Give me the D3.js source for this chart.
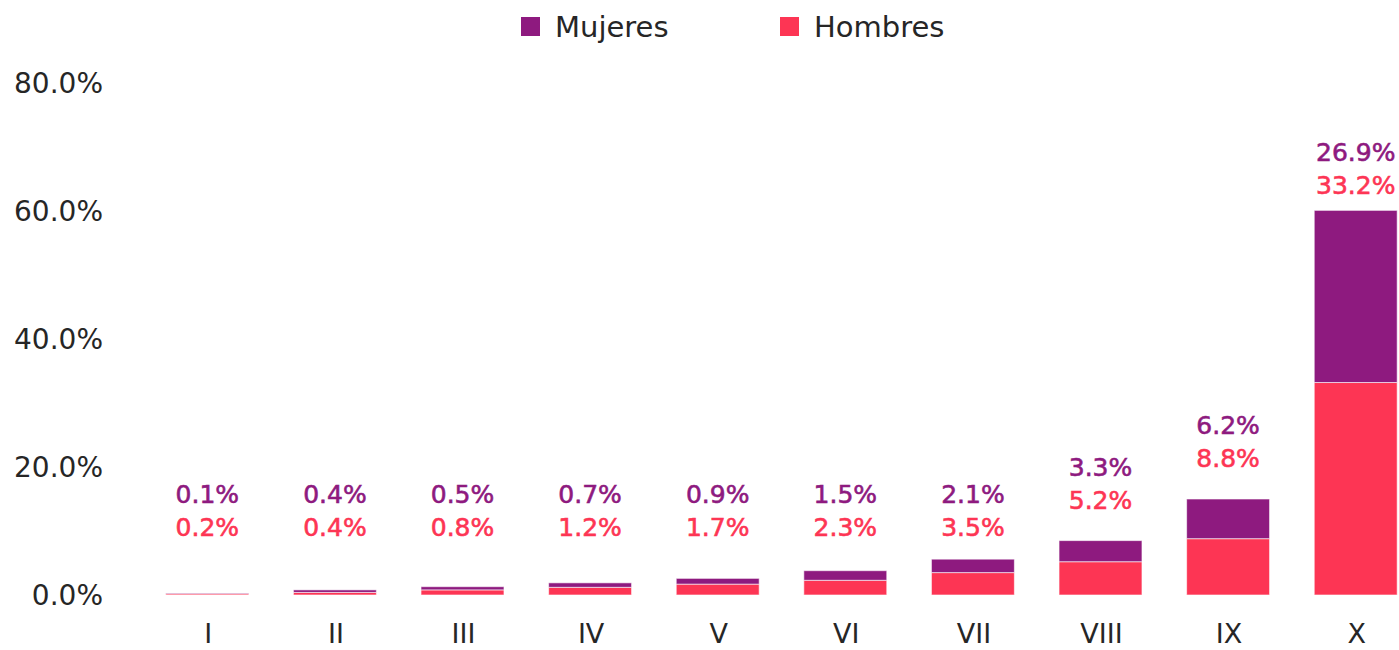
<!DOCTYPE html>
<html>
<head>
<meta charset="utf-8">
<script src="https://cdn.jsdelivr.net/npm/d3@7"></script>
<style>
  body { margin: 0; background: #fff; }
  text { font-family: "DejaVu Sans", sans-serif; }
</style>
</head>
<body>
<div id="chart"></div>
<script>
const categories = ['I', 'II', 'III', 'IV', 'V', 'VI', 'VII', 'VIII', 'IX', 'X']
const mujeres = [0.1, 0.4, 0.5, 0.7, 0.9, 1.5, 2.1, 3.3, 6.2, 26.9]
const hombres = [0.2, 0.4, 0.8, 1.2, 1.7, 2.3, 3.5, 5.2, 8.8, 33.2]
const yTicks = [0, 20, 40, 60, 80]
const seriesNames = ['Mujeres', 'Hombres']

const colors = { Mujeres: '#8e1a7f', Hombres: '#fd3554' }

const dimensions = { width: 1399, height: 650 }

const rows = categories.map((c, i) => ({ cat: c, Hombres: hombres[i], Mujeres: mujeres[i] }))
const stack = d3.stack().keys(['Hombres', 'Mujeres'])(rows)

const svg = d3.select('#chart')
  .append('svg')
  .attr('width', dimensions.width)
  .attr('height', dimensions.height)

const xScale = d3.scaleBand()
  .domain(categories)
  .range([143.5, 1419.5])
  .paddingInner(0.35)
  .paddingOuter(0.175)

const yScale = d3.scaleLinear()
  .domain([0, 80])
  .range([595, 83])

// y axis labels only
const yAxis = d3.axisLeft(yScale)
  .tickValues(yTicks)
  .tickFormat(d => d3.format('.1f')(d) + '%')
  .tickSize(0)
  .tickPadding(0)

const yAxisGroup = svg.append('g')
  .attr('transform', 'translate(103, -1)')
  .call(yAxis)
yAxisGroup.select('.domain').remove()
yAxisGroup.selectAll('text')
  .attr('font-family', '"DejaVu Sans", sans-serif')
  .style('font-size', '28px')
  .attr('fill', '#262626')
  .attr('dy', '0.36em')

// bars (thin white edge like the original)
svg.append('g')
  .selectAll('g')
  .data(stack)
  .join('g')
  .attr('fill', d => colors[d.key])
  .selectAll('rect')
  .data(d => d)
  .join('rect')
  .attr('x', d => xScale(d.data.cat))
  .attr('width', xScale.bandwidth())
  .attr('y', d => yScale(d[1]))
  .attr('height', d => yScale(d[0]) - yScale(d[1]))
  .attr('stroke', '#fff')
  .attr('stroke-opacity', 0.6)
  .attr('stroke-width', 1)

// x axis labels
const xAxis = d3.axisBottom(xScale).tickSize(0).tickPadding(0)
const xAxisGroup = svg.append('g')
  .attr('transform', 'translate(1, 624)')
  .call(xAxis)
xAxisGroup.select('.domain').remove()
xAxisGroup.selectAll('text')
  .attr('font-family', '"DejaVu Sans", sans-serif')
  .style('font-size', '27px')
  .attr('fill', '#262626')
  .attr('dy', '0.72em')

// value labels: a common row for short bars, above the bar for tall ones
const baseRow = 527
const labelY = (i) => {
  const above = yScale(mujeres[i] + hombres[i]) - 41
  if (above > baseRow - 20) return baseRow
  return Math.max(185, above)
}
const labels = svg.append('g')
  .selectAll('g')
  .data(categories)
  .join('g')
  .attr('transform', (d, i) => `translate(${xScale(d) + xScale.bandwidth() / 2}, ${labelY(i)})`)

labels.append('text')
  .attr('y', -33)
  .attr('dy', '0.36em')
  .attr('text-anchor', 'middle')
  .style('font-size', '25px')
  .attr('fill', colors.Mujeres)
  .attr('stroke', colors.Mujeres)
  .attr('stroke-width', 0.6)
  .text((d, i) => d3.format('.1f')(mujeres[i]) + '%')

labels.append('text')
  .attr('dy', '0.36em')
  .attr('text-anchor', 'middle')
  .style('font-size', '25px')
  .attr('fill', colors.Hombres)
  .attr('stroke', colors.Hombres)
  .attr('stroke-width', 0.6)
  .text((d, i) => d3.format('.1f')(hombres[i]) + '%')

// legend
const legend = svg.append('g')
  .selectAll('g')
  .data(seriesNames)
  .join('g')
  .attr('transform', (d, i) => `translate(${521 + i * 259}, 17)`)

legend.append('rect')
  .attr('width', 19)
  .attr('height', 19)
  .attr('fill', d => colors[d])

legend.append('text')
  .attr('x', 34)
  .attr('y', 10)
  .attr('dy', '0.36em')
  .style('font-size', '29px')
  .attr('fill', '#262626')
  .text(d => d)
</script>
</body>
</html>
